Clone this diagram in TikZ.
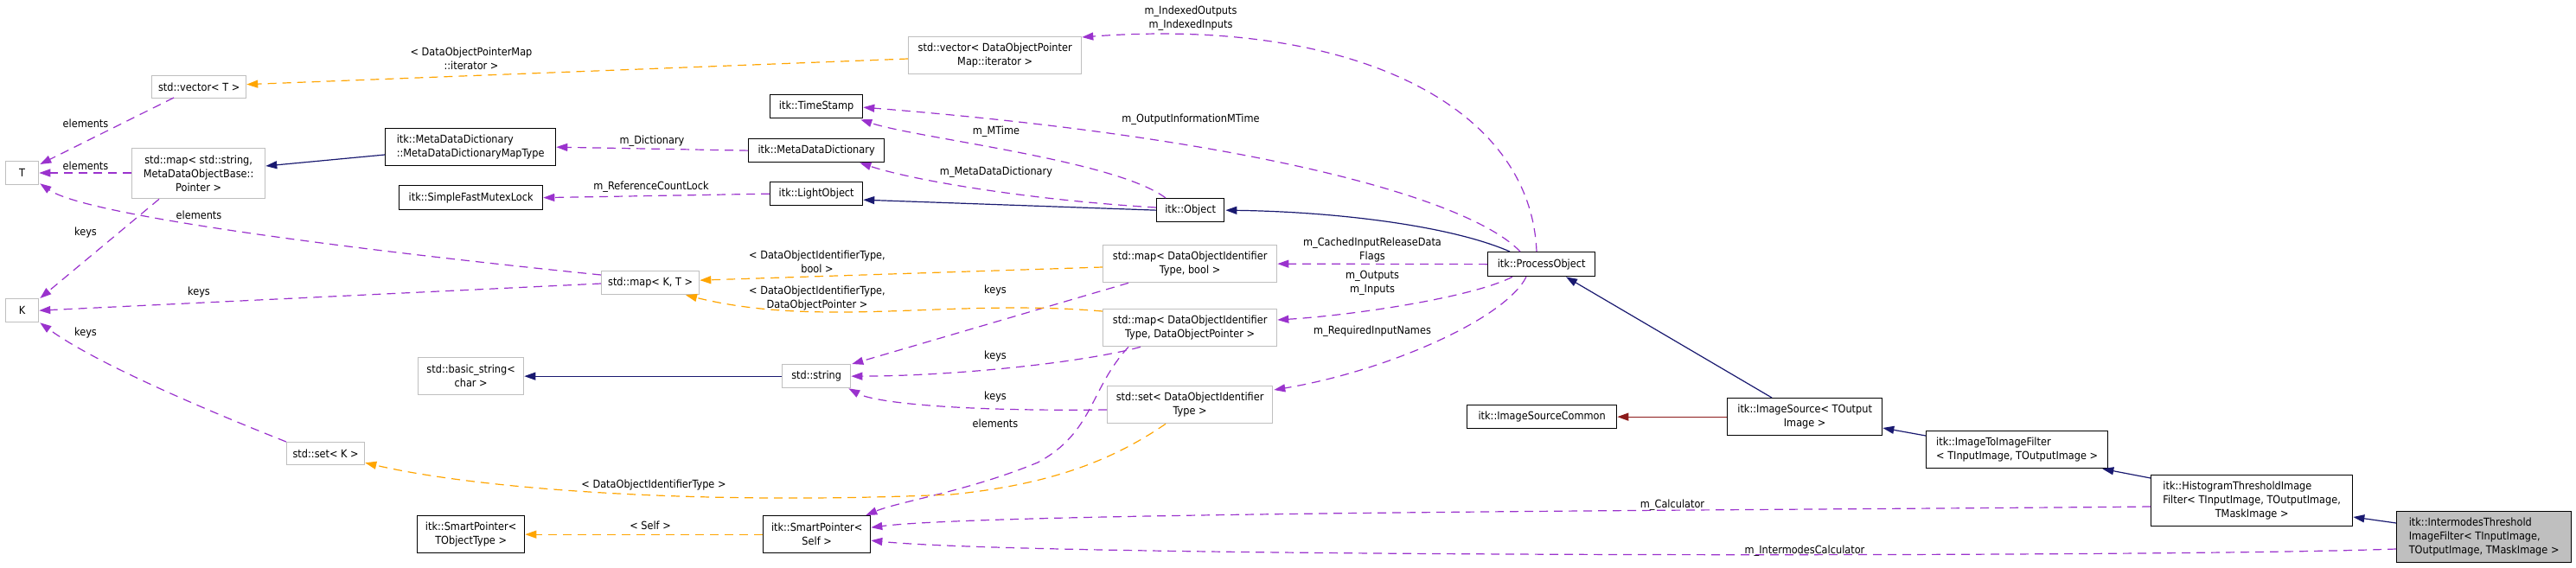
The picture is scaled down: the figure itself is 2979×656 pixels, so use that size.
\documentclass[tikz,border=0pt]{standalone}
\usepackage{fontspec}
\setmainfont{DejaVu Sans Condensed}
\usetikzlibrary{arrows.meta,calc}
\definecolor{purp}{HTML}{9A32CD}
\definecolor{orng}{HTML}{FFA500}
\definecolor{dblue}{HTML}{191970}
\definecolor{dred}{HTML}{8B1A1A}
\definecolor{lgray}{HTML}{BFBFBF}
\newcommand\dxfont{\fontsize{12.6}{16}\selectfont}
\begin{document}
\begin{tikzpicture}[x=1pt,y=-1pt,
 cls/.style={draw=black,line width=1.3pt,fill=white,inner sep=0pt,anchor=north west,align=center,font=\dxfont},
 ext/.style={cls,draw=lgray},
 lbl/.style={inner sep=0pt,align=center,font=\dxfont},
 usedge/.style={draw=purp,line width=1.2pt,dash pattern=on 10pt off 7pt,-{Triangle[length=13pt,width=9pt]}},
 tmpl/.style={usedge,draw=orng},
 inh/.style={draw=dblue,line width=1.2pt,-{Triangle[length=13pt,width=9pt]}},
 inhp/.style={inh,draw=dred},
]
\fill[white] (0,0) rectangle (2979,656);
\useasboundingbox (0,0) rectangle (2979,656);

% nodes
\node[ext,minimum width=38pt,minimum height=27pt] (T) at (6,186) {T};
\node[ext,minimum width=38pt,minimum height=27pt] (K) at (6,345) {K};
\node[ext,minimum width=109pt,minimum height=26pt] (vecT) at (175,87) {std::vector< T >};
\node[ext,minimum width=154pt,minimum height=58pt] (mapStr) at (152,171) {std::map< std::string,\\ MetaDataObjectBase::\\ Pointer >};
\node[cls,align=left,minimum width=197pt,minimum height=43pt] (MapType) at (445,148) {itk::MetaDataDictionary\\::MetaDataDictionaryMapType};
\node[cls,minimum width=166pt,minimum height=28pt] (SFML) at (461,214) {itk::SimpleFastMutexLock};
\node[cls,minimum width=107pt,minimum height=27pt] (TS) at (890,109) {itk::TimeStamp};
\node[cls,minimum width=157pt,minimum height=27pt] (MDD) at (865,160) {itk::MetaDataDictionary};
\node[cls,minimum width=107pt,minimum height=27pt] (LO) at (890,210) {itk::LightObject};
\node[ext,minimum width=200pt,minimum height=43pt] (vecDOP) at (1050,42) {std::vector< DataObjectPointer\\ Map::iterator >};
\node[cls,minimum width=78pt,minimum height=27pt] (Obj) at (1337,229) {itk::Object};
\node[ext,minimum width=113pt,minimum height=27pt] (mapKT) at (695,313) {std::map< K, T >};
\node[ext,minimum width=201pt,minimum height=43pt] (mapBool) at (1275,283) {std::map< DataObjectIdentifier\\ Type, bool >};
\node[ext,minimum width=201pt,minimum height=43pt] (mapDOP) at (1275,357) {std::map< DataObjectIdentifier\\ Type, DataObjectPointer >};
\node[ext,minimum width=79pt,minimum height=27pt] (str) at (904,421) {std::string};
\node[ext,minimum width=122pt,minimum height=43pt] (bstr) at (483,413) {std::basic\_string<\\ char >};
\node[ext,minimum width=90pt,minimum height=26pt] (setK) at (331,511) {std::set< K >};
\node[cls,minimum width=124pt,minimum height=43pt] (SPT) at (482,596) {itk::SmartPointer<\\ TObjectType >};
\node[cls,minimum width=124pt,minimum height=43pt] (SPS) at (882,596) {itk::SmartPointer<\\ Self >};
\node[ext,minimum width=191pt,minimum height=43pt] (setD) at (1280,446) {std::set< DataObjectIdentifier\\ Type >};
\node[cls,minimum width=124pt,minimum height=28pt] (PO) at (1720,291) {itk::ProcessObject};
\node[cls,minimum width=173pt,minimum height=27pt] (ISC) at (1696,468) {itk::ImageSourceCommon};
\node[cls,minimum width=179pt,minimum height=43pt] (IS) at (1997,460) {itk::ImageSource< TOutput\\ Image >};
\node[cls,align=left,minimum width=210pt,minimum height=43pt] (I2I) at (2227,498) {itk::ImageToImageFilter\\< TInputImage, TOutputImage >};
\node[cls,minimum width=233pt,minimum height=59pt] (HT) at (2487,549) {\begin{tabular}{@{}l@{}}itk::HistogramThresholdImage\\Filter< TInputImage, TOutputImage,\\\multicolumn{1}{@{}c@{}}{TMaskImage >}\end{tabular}};
\node[cls,fill=lgray,align=left,minimum width=202pt,minimum height=59pt] (IM) at (2771,591) {itk::IntermodesThreshold\\ImageFilter< TInputImage,\\ TOutputImage, TMaskImage >};

% purple usage edges
\draw[usedge] ($(vecT.north west)+(26,26)$) -- ($(T.north east)+(1,4)$);
\draw[usedge] ($(mapStr.north west)+(0,29)$) -- ($(T.north east)+(0,14)$);
\draw[usedge] ($(mapKT.north west)+(0,5)$) .. controls (420,290) and (100,250) .. ($(T.south east)+(1,-2)$);
\draw[usedge] ($(mapStr.south west)+(32,0)$) -- ($(K.north east)+(1,0)$);
\draw[usedge] ($(mapKT.north west)+(0,15)$) -- (K.east);
\draw[usedge] (setK.north west) .. controls (240,475) and (110,420) .. ($(K.south east)+(1,0)$);
\draw[usedge] (MDD.west) -- (MapType.east);
\draw[usedge] (LO.west) -- (SFML.east);
\draw[usedge] ($(Obj.north west)+(11,0)$) .. controls (1290,185) and (1060,160) .. ($(TS.south east)+(-3,1)$);
\draw[usedge] ($(Obj.north west)+(0,11)$) .. controls (1200,232) and (1060,210) .. ($(MDD.south east)+(-29,0)$);
\draw[usedge] ($(PO.north west)+(38,0)$) .. controls (1700,230) and (1450,160) .. ($(TS.east)+(0,1)$);
\draw[usedge] ($(PO.north west)+(57,0)$) .. controls (1770,120) and (1560,20) .. ($(vecDOP.north east)+(0,1)$);
\draw[usedge] (PO.west) -- (mapBool.east);
\draw[usedge] ($(PO.south west)+(29,0)$) .. controls (1700,345) and (1560,365) .. ($(mapDOP.north east)+(0,13)$);
\draw[usedge] ($(PO.south west)+(45,0)$) .. controls (1740,370) and (1600,430) .. ($(setD.north east)+(1,5)$);
\draw[usedge] ($(mapBool.south west)+(30,0)$) -- ($(str.north east)+(1,0)$);
\draw[usedge] ($(mapDOP.south west)+(44,0)$) .. controls (1250,420) and (1100,435) .. (str.east);
\draw[usedge] ($(setD.north west)+(0,28)$) .. controls (1100,476) and (1010,465) .. ($(str.south east)+(-3,0)$);
\draw[usedge] ($(mapDOP.south west)+(30,0)$) .. controls (1260,450) and (1265,500) .. (1200,535) .. controls (1120,568) and (1040,580) .. ($(SPS.north east)+(-6,0)$);
\draw[usedge] ($(HT.north west)+(0,37)$) .. controls (2100,590) and (1150,592) .. ($(SPS.east)+(0,-8)$);
\draw[usedge] ($(IM.north west)+(0,44)$) .. controls (2500,645) and (1200,645) .. ($(SPS.east)+(0,7)$);

% orange template edges
\draw[tmpl] ($(vecDOP.north west)+(0,26)$) -- ($(vecT.east)+(0,-3)$);
\draw[tmpl] ($(mapBool.north west)+(0,26)$) -- ($(mapKT.east)+(0,-3)$);
\draw[tmpl] ($(mapDOP.north west)+(0,3)$) .. controls (1100,345) and (950,380) .. ($(mapKT.south west)+(98,0)$);
\draw[tmpl] ($(setD.south west)+(68,0)$) .. controls (1290,530) and (1220,560) .. (1100,572) .. controls (800,585) and (550,565) .. ($(setK.south east)+(0,-3)$);
\draw[tmpl] (SPS.west) -- (SPT.east);

% inheritance edges
\draw[inh] ($(MapType.north west)+(0,31)$) -- ($(mapStr.north east)+(0,21)$);
\draw[inh] (str.west) -- (bstr.east);
\draw[inh] (Obj.west) -- ($(LO.east)+(0,7)$);
\draw[inh] ($(PO.north west)+(26,0)$) .. controls (1680,262) and (1550,245) .. ($(Obj.east)+(1,0)$);
\draw[inh] ($(IS.north west)+(52,0)$) -- ($(PO.south west)+(91,0)$);
\draw[inh] ($(I2I.north west)+(0,6)$) -- ($(IS.north east)+(0,35)$);
\draw[inh] ($(HT.north west)+(0,4)$) -- ($(I2I.south east)+(-7,0)$);
\draw[inh] ($(IM.north west)+(0,14)$) -- ($(HT.north east)+(0,49)$);
\draw[inhp] (IS.west) -- (ISC.east);

% labels
\node[lbl] (l1) at (99,143) {elements};
\node[lbl] (l2) at (99,192) {elements};
\node[lbl] (l3) at (230,249) {elements};
\node[lbl] (l4) at (99,269) {keys};
\node[lbl] (l5) at (230,338) {keys};
\node[lbl] (l6) at (99,385) {keys};
\node[lbl] (l7) at (754,163) {m\_Dictionary};
\node[lbl] (l8) at (753,216) {m\_ReferenceCountLock};
\node[lbl] (l9) at (1152,152) {m\_MTime};
\node[lbl] (l10) at (1152,199) {m\_MetaDataDictionary};
\node[lbl] (l11) at (1377,138) {m\_OutputInformationMTime};
\node[lbl] (l12) at (1377,21) {m\_IndexedOutputs\\m\_IndexedInputs};
\node[lbl] (l13) at (1587,289) {m\_CachedInputReleaseData\\Flags};
\node[lbl] (l14) at (1587,327) {m\_Outputs\\m\_Inputs};
\node[lbl] (l15) at (1587,383) {m\_RequiredInputNames};
\node[lbl] (l16) at (1151,336) {keys};
\node[lbl] (l17) at (1151,412) {keys};
\node[lbl] (l18) at (1151,459) {keys};
\node[lbl] (l19) at (1151,490) {elements};
\node[lbl] (l20) at (1934,584) {m\_Calculator};
\node[lbl] (l21) at (2087,637) {m\_IntermodesCalculator};
\node[lbl] (l22) at (545,68) {< DataObjectPointerMap\\::iterator >};
\node[lbl] (l23) at (945,303) {< DataObjectIdentifierType,\\bool >};
\node[lbl] (l24) at (945,345) {< DataObjectIdentifierType,\\DataObjectPointer >};
\node[lbl] (l25) at (756,561) {< DataObjectIdentifierType >};
\node[lbl] (l26) at (752,608) {< Self >};
\end{tikzpicture}
\end{document}
